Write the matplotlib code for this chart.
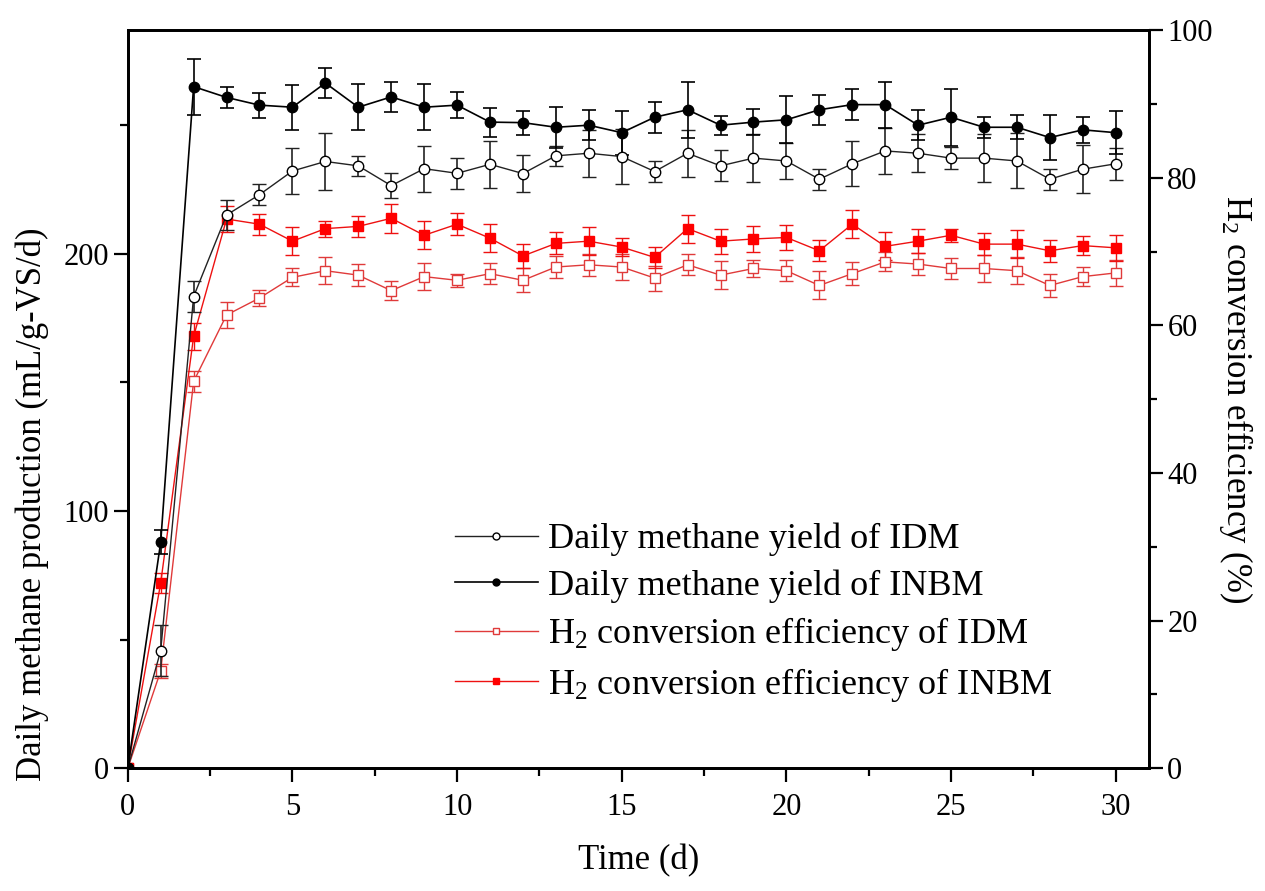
import numpy as np
import matplotlib
matplotlib.use("Agg")
import matplotlib.pyplot as plt
from matplotlib.ticker import MultipleLocator
from matplotlib.lines import Line2D

plt.rcParams['font.family'] = ['Liberation Serif', 'DejaVu Serif']
plt.rcParams['mathtext.fontset'] = 'custom'
plt.rcParams['mathtext.rm'] = 'Liberation Serif'
plt.rcParams['mathtext.it'] = 'Liberation Serif:italic'

days = np.arange(0, 31)

# daily methane yield (mL/g-VS/d), left axis
idm_ch4 = [0, 45.7, 183.4, 215.1, 223.0, 232.2, 235.9, 234.2, 226.5, 233.1, 231.3,
           234.8, 231.2, 238.1, 239.1, 237.8, 232.0, 239.1, 234.2, 237.2, 236.1,
           229.0, 235.0, 240.0, 239.1, 237.2, 237.2, 236.1, 229.0, 232.9, 235.0]
idm_ch4_err = [0, 10.0, 6.2, 6.0, 4.0, 8.9, 11.1, 4.0, 4.9, 8.9, 6.0,
               9.1, 7.1, 4.0, 9.1, 10.6, 4.0, 9.1, 6.0, 9.2, 7.0,
               4.0, 8.7, 8.9, 7.3, 4.4, 9.2, 10.7, 4.0, 9.4, 6.2]
inbm_ch4 = [0, 87.9, 265.0, 260.8, 257.8, 257.0, 266.4, 257.0, 261.0, 257.0, 257.8,
            251.2, 251.0, 249.2, 250.0, 247.1, 253.1, 256.0, 250.0, 251.2, 252.1,
            256.0, 258.0, 258.0, 250.0, 253.1, 249.2, 249.2, 245.2, 248.2, 247.1]
inbm_ch4_err = [0, 4.7, 10.9, 4.0, 4.9, 8.8, 5.9, 8.9, 5.8, 8.9, 5.0,
                5.6, 4.7, 8.0, 5.8, 8.6, 6.0, 10.9, 3.7, 5.1, 9.1,
                5.8, 6.0, 8.9, 5.8, 11.0, 4.0, 4.7, 8.9, 5.1, 8.4]

# H2 conversion efficiency (%), right axis
idm_h2 = [0, 13.2, 52.4, 61.4, 63.7, 66.5, 67.4, 66.8, 64.7, 66.6, 66.1,
          67.0, 66.1, 67.9, 68.2, 67.9, 66.4, 68.2, 66.8, 67.7, 67.4,
          65.4, 67.0, 68.6, 68.3, 67.7, 67.7, 67.4, 65.4, 66.6, 67.1]
idm_h2_err = [0, 0.9, 1.4, 1.7, 1.1, 1.2, 1.8, 1.5, 1.3, 1.8, 0.9,
              1.4, 1.6, 1.5, 1.5, 1.7, 1.7, 1.4, 1.9, 1.1, 1.4,
              1.9, 1.6, 1.3, 1.5, 1.4, 1.8, 1.8, 1.6, 1.3, 1.8]
inbm_h2 = [0, 25.1, 58.5, 74.4, 73.7, 71.4, 73.1, 73.4, 74.5, 72.2, 73.7,
           71.8, 69.4, 71.1, 71.4, 70.6, 69.2, 73.1, 71.4, 71.7, 71.9,
           70.1, 73.7, 70.7, 71.4, 72.2, 71.0, 71.0, 70.1, 70.8, 70.5]
inbm_h2_err = [0, 1.4, 1.8, 1.7, 1.4, 1.9, 1.1, 1.4, 2.0, 1.9, 1.5,
               1.9, 1.6, 1.5, 1.9, 1.2, 1.4, 1.9, 1.7, 1.8, 1.7,
               1.4, 1.9, 1.9, 1.6, 0.9, 1.5, 1.9, 1.5, 1.3, 1.8]

labels = ["Daily methane yield of IDM", "Daily methane yield of INBM",
          r"H$_2$ conversion efficiency of IDM", r"H$_2$ conversion efficiency of INBM"]

fig = plt.figure(figsize=(12.65, 8.91), dpi=100)
ax = fig.add_axes([0.101, 0.1377, 0.807, 0.8286])
ax2 = ax.twinx()
ax.set_zorder(ax2.get_zorder() + 1)
ax.patch.set_visible(False)

red_l = "#e03a3a"
red = "#ff0000"
cap = 5
ms = 7.5
ax2.errorbar(days, idm_h2, yerr=idm_h2_err, color=red_l, marker="s", ms=ms,
             mfc="white", mec=red_l, mew=1.0, lw=1.0, elinewidth=1.0,
             capsize=cap, capthick=1.0)
ax2.errorbar(days, inbm_h2, yerr=inbm_h2_err, color="#ee1111", marker="s", ms=ms,
             mfc=red, mec=red, lw=1.0, elinewidth=1.0, capsize=cap, capthick=1.0)
ax.errorbar(days, idm_ch4, yerr=idm_ch4_err, color="#222222", marker="o", ms=ms,
            mfc="white", mec="black", mew=1.0, lw=1.0, elinewidth=1.2,
            capsize=cap, capthick=1.2)
ax.errorbar(days, inbm_ch4, yerr=inbm_ch4_err, color="black", marker="o", ms=ms,
            mfc="black", mec="black", lw=1.2, elinewidth=1.2, capsize=cap, capthick=1.2)

ax.set_xlim(0, 31)
ax.set_ylim(0, 287)
ax2.set_ylim(0, 100)

ax.xaxis.set_major_locator(MultipleLocator(5))
ax.xaxis.set_minor_locator(MultipleLocator(2.5))
ax.yaxis.set_major_locator(MultipleLocator(100))
ax.yaxis.set_minor_locator(MultipleLocator(50))
ax2.yaxis.set_major_locator(MultipleLocator(20))
ax2.yaxis.set_minor_locator(MultipleLocator(10))

for a in (ax, ax2):
    for s in a.spines.values():
        s.set_linewidth(2.0)
    a.tick_params(which="major", direction="out", length=10, width=1.6, labelsize=22)
    a.tick_params(which="minor", direction="out", length=6, width=1.6)
ax.tick_params(axis="x", pad=8)
ax2.tick_params(axis="y", right=True, left=False)

ax.set_xlabel("Time (d)", fontsize=25, labelpad=16)
ax.set_ylabel("Daily methane production (mL/g-VS/d)", fontsize=25)
ax.yaxis.set_label_coords(-0.077, 0.357)
ax2.set_ylabel(r"H$_2$ conversion efficiency (%)", fontsize=25, rotation=270, labelpad=30)

handles = [
    Line2D([], [], color="#222222", lw=1.0, marker="o", ms=5, mfc="white", mec="black"),
    Line2D([], [], color="black", lw=1.2, marker="o", ms=5, mfc="black", mec="black"),
    Line2D([], [], color=red_l, lw=1.0, marker="s", ms=5, mfc="white", mec=red_l),
    Line2D([], [], color="#ee1111", lw=1.0, marker="s", ms=5, mfc=red, mec=red),
]
ax.legend(handles=handles, labels=labels, loc="upper left", bbox_to_anchor=(0.306, 0.352),
          frameon=False, fontsize=26, handlelength=2.3, labelspacing=0.35,
          handletextpad=0.3, borderaxespad=0)

fig.savefig("out.png", dpi=100)
